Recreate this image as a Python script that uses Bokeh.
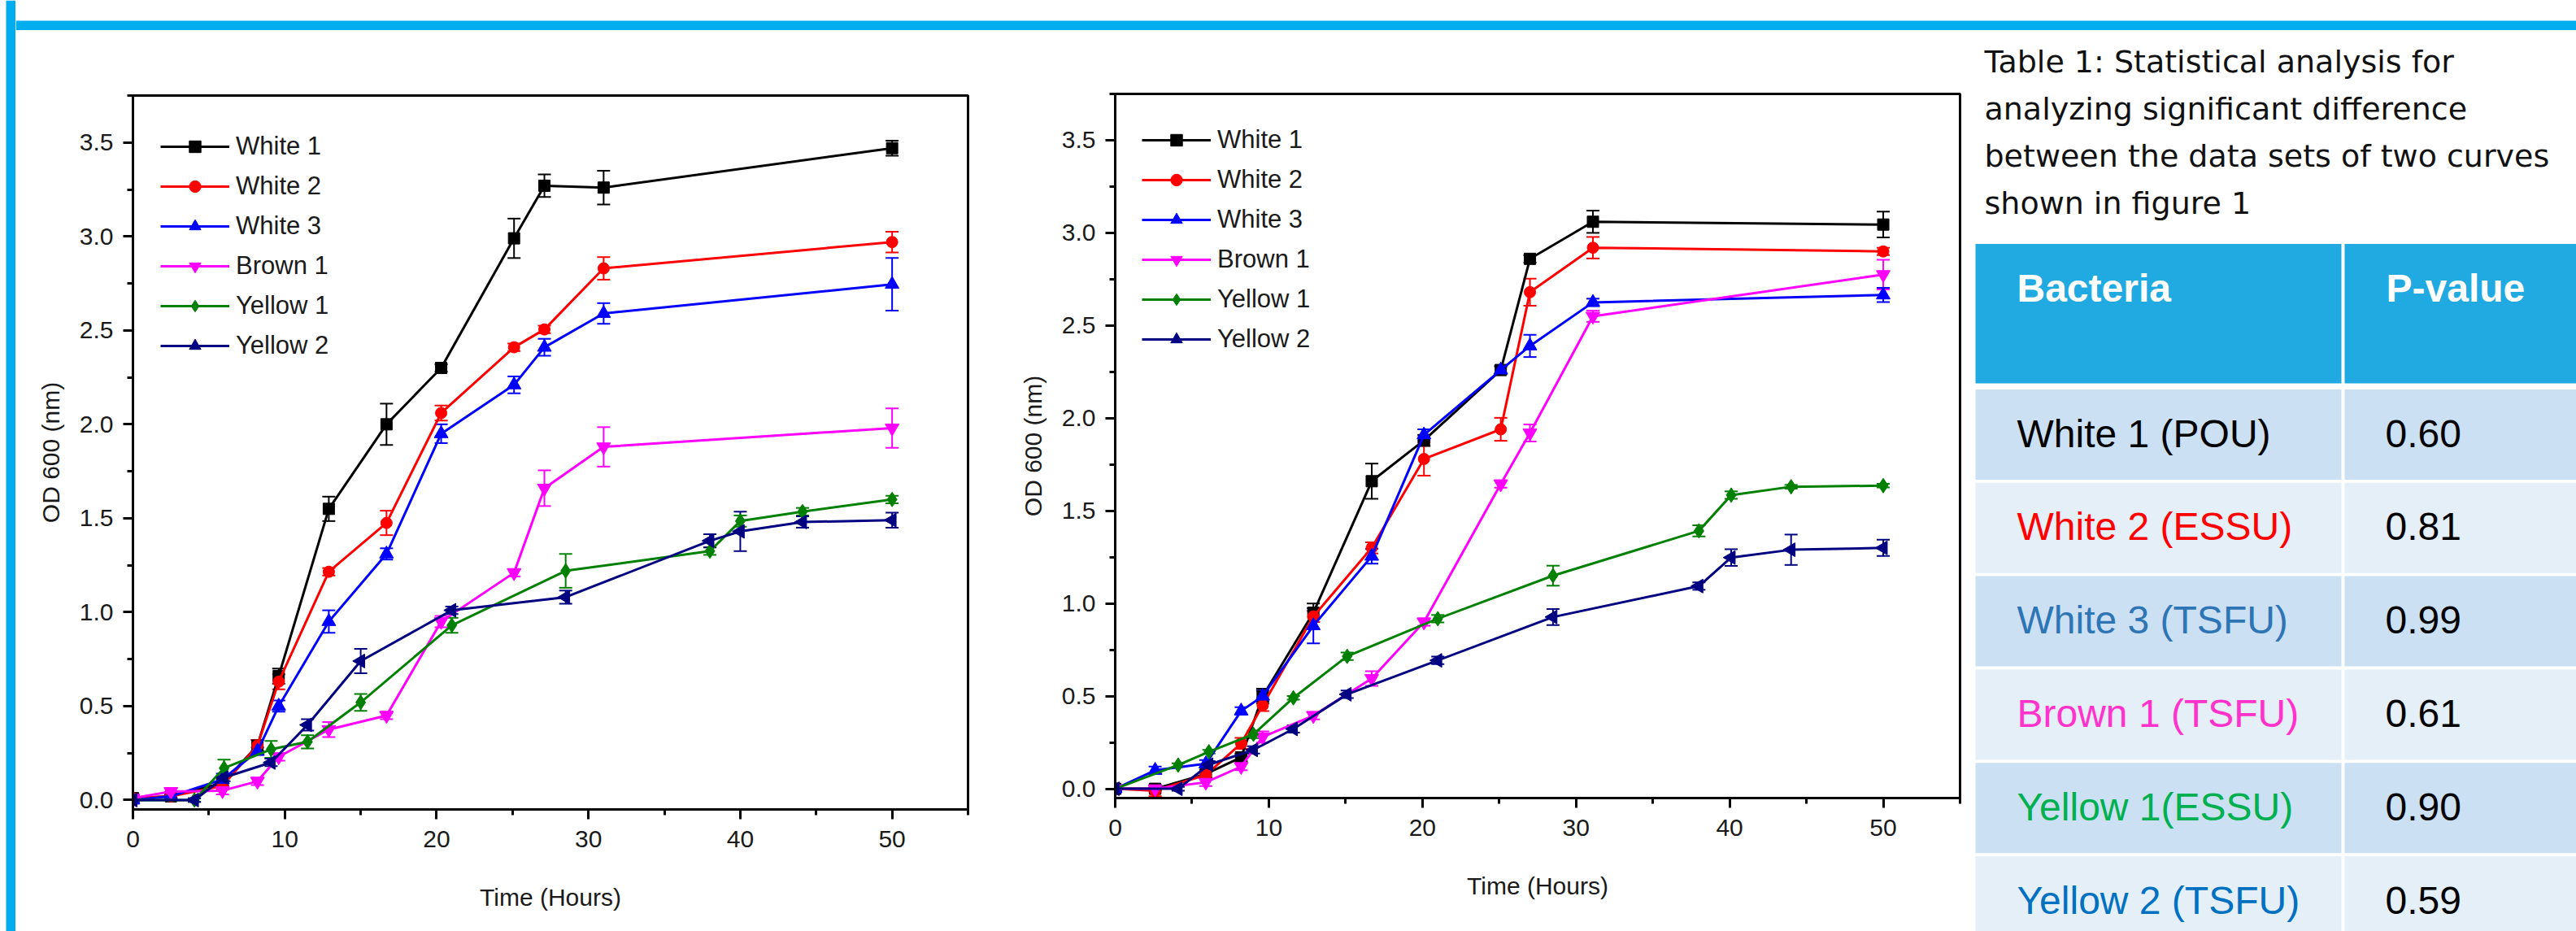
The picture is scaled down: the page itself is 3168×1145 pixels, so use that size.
import math
from bokeh.plotting import figure
from bokeh.models import (Range1d, SingleIntervalTicker, ColumnDataSource, Whisker,
                          TeeHead, Legend, LegendItem, NumeralTickFormatter)
from bokeh.layouts import row, column
from bokeh.embed import file_html
from bokeh.resources import INLINE
from bokeh.core.properties import value

# ---------------- data ----------------
series_names = ["White 1", "White 2", "White 3", "Brown 1", "Yellow 1", "Yellow 2"]

# Figure A (left)
tA_white = [0, 2.5, 5.9, 8.2, 9.6, 12.9, 16.7, 20.3, 25.1, 27.1, 31.0, 50.0]
tA_yellow = [0, 4.05, 6.0, 9.1, 11.5, 15.0, 21.0, 28.5, 38.0, 40.0, 44.1, 50.0]
A_white1 = [0.01, 0.02, 0.09, 0.29, 0.66, 1.55, 2.00, 2.30, 2.99, 3.27, 3.26, 3.47]
A_white1_err = [0.01, 0.01, 0.02, 0.03, 0.04, 0.065, 0.11, 0.02, 0.105, 0.06, 0.09, 0.04]
A_white2 = [0.01, 0.02, 0.075, 0.29, 0.63, 1.215, 1.475, 2.06, 2.41, 2.505, 2.83, 2.97]
A_white2_err = [0.01, 0.01, 0.02, 0.03, 0.04, 0.02, 0.065, 0.04, 0.02, 0.02, 0.06, 0.055]
A_white3 = [0.0, 0.02, 0.11, 0.26, 0.50, 0.95, 1.31, 1.95, 2.21, 2.41, 2.59, 2.745]
A_white3_err = [0.01, 0.01, 0.03, 0.02, 0.03, 0.06, 0.03, 0.05, 0.045, 0.045, 0.055, 0.14]
A_brown1 = [0.01, 0.045, 0.05, 0.10, 0.23, 0.375, 0.45, 0.95, 1.21, 1.66, 1.88, 1.98]
A_brown1_err = [0.01, 0.02, 0.02, 0.02, 0.02, 0.04, 0.02, 0.03, 0.02, 0.095, 0.105, 0.105]
A_yellow1 = [0.0, 0.0, 0.17, 0.27, 0.31, 0.52, 0.93, 1.22, 1.325, 1.485, 1.535, 1.60]
A_yellow1_err = [0.01, 0.01, 0.045, 0.045, 0.035, 0.045, 0.04, 0.09, 0.02, 0.03, 0.02, 0.02]
A_yellow2 = [0.0, 0.0, 0.12, 0.20, 0.40, 0.74, 1.01, 1.08, 1.38, 1.43, 1.48, 1.49]
A_yellow2_err = [0.01, 0.01, 0.02, 0.02, 0.03, 0.065, 0.02, 0.035, 0.035, 0.105, 0.03, 0.04]

# Figure B (right)
tB_white = [0, 2.6, 5.9, 8.2, 9.6, 12.9, 16.7, 20.1, 25.1, 27.0, 31.1, 50.0]
tB_yellow = [0, 4.1, 6.1, 9.0, 11.6, 15.1, 21.0, 28.5, 38.0, 40.1, 44.0, 50.0]
B_white1 = [0.0, 0.0, 0.08, 0.17, 0.50, 0.95, 1.66, 1.88, 2.26, 2.86, 3.06, 3.045]
B_white1_err = [0.01, 0.01, 0.02, 0.02, 0.04, 0.05, 0.095, 0.03, 0.02, 0.02, 0.06, 0.07]
B_white2 = [0.0, -0.01, 0.075, 0.245, 0.45, 0.93, 1.30, 1.78, 1.94, 2.68, 2.92, 2.90]
B_white2_err = [0.01, 0.03, 0.02, 0.03, 0.03, 0.03, 0.03, 0.09, 0.062, 0.073, 0.058, 0.02]
B_white3 = [0.0, 0.10, 0.135, 0.42, 0.50, 0.88, 1.255, 1.91, 2.26, 2.39, 2.625, 2.665]
B_white3_err = [0.01, 0.02, 0.02, 0.02, 0.03, 0.095, 0.04, 0.03, 0.02, 0.06, 0.02, 0.038]
B_brown1 = [0.0, 0.0, 0.035, 0.12, 0.28, 0.395, 0.595, 0.90, 1.645, 1.92, 2.55, 2.775]
B_brown1_err = [0.01, 0.02, 0.02, 0.02, 0.03, 0.02, 0.04, 0.02, 0.02, 0.046, 0.03, 0.08]
B_yellow1 = [0.0, 0.128, 0.20, 0.294, 0.491, 0.715, 0.918, 1.15, 1.392, 1.585, 1.63, 1.636]
B_yellow1_err = [0.01, 0.01, 0.01, 0.02, 0.01, 0.02, 0.02, 0.054, 0.03, 0.02, 0.01, 0.01]
B_yellow2 = [0.0, 0.0, 0.13, 0.21, 0.323, 0.51, 0.693, 0.927, 1.094, 1.248, 1.29, 1.30]
B_yellow2_err = [0.01, 0.01, 0.02, 0.02, 0.02, 0.02, 0.02, 0.043, 0.02, 0.045, 0.082, 0.044]

# Table
caption_lines = ["Table 1: Statistical analysis for",
                 "analyzing significant difference",
                 "between the data sets of two curves",
                 "shown in figure 1"]
table_header = ["Bacteria", "P-value"]
bacteria = ["White 1 (POU)", "White 2 (ESSU)", "White 3 (TSFU)",
            "Brown 1 (TSFU)", "Yellow 1(ESSU)", "Yellow 2 (TSFU)"]
p_values = ["0.60", "0.81", "0.99", "0.61", "0.90", "0.59"]

# ---------------- styles ----------------
FONT = "Liberation Sans"
series_colors = ["#000000", "#FF0000", "#0000FF", "#FF00FF", "#008000", "#000080"]
series_markers = ["square", "circle", "triangle", "inverted_triangle", "diamond", "triangle"]
series_angles = [0, 0, 0, 0, 0, math.pi / 2]
series_sizes = [14, 14, 17, 17, 18, 17]
bacteria_colors = ["#000000", "#FF0000", "#2E75B6", "#FF33CC", "#00B050", "#0070C0"]
BLUE = "#00AEEF"


def make_chart(width, height, bl, br, bt, bb, times, vals, errs, leg_xy):
    p = figure(width=width, height=height, output_backend="svg", toolbar_location=None,
               x_range=Range1d(0, 55), y_range=Range1d(-0.05, 3.75),
               min_border_left=bl, min_border_right=br, min_border_top=bt,
               min_border_bottom=bb)
    p.xgrid.visible = False
    p.ygrid.visible = False
    p.outline_line_color = "#000000"
    p.outline_line_width = 3
    p.outline_line_alpha = 1.0
    p.background_fill_color = "white"
    p.border_fill_color = "white"

    p.xaxis.ticker = SingleIntervalTicker(interval=10, num_minor_ticks=2)
    p.yaxis.ticker = SingleIntervalTicker(interval=0.5, num_minor_ticks=2)
    p.yaxis.formatter = NumeralTickFormatter(format="0.0")
    p.xaxis.axis_label = "Time (Hours)"
    p.yaxis.axis_label = "OD 600 (nm)"
    for ax in [p.xaxis, p.yaxis]:
        ax.axis_line_width = 3
        ax.axis_line_color = "#000000"
        ax.major_tick_line_width = 3
        ax.minor_tick_line_width = 3
        ax.major_tick_out = 12
        ax.major_tick_in = 0
        ax.minor_tick_out = 7
        ax.minor_tick_in = 0
        ax.major_label_text_font = FONT
        ax.major_label_text_font_size = "30px"
        ax.major_label_text_color = "#1a1a1a"
        ax.axis_label_text_font = FONT
        ax.axis_label_text_font_size = "30px"
        ax.axis_label_text_font_style = "normal"
        ax.axis_label_text_color = "#1a1a1a"
    p.xaxis.major_label_standoff = 14
    p.yaxis.major_label_standoff = 12
    p.xaxis.axis_label_standoff = 42
    p.yaxis.axis_label_standoff = 16

    items = []
    for i, name in enumerate(series_names):
        t = times[i]
        v = vals[i]
        e = errs[i]
        col = series_colors[i]
        src = ColumnDataSource(dict(x=t, y=v,
                                    upper=[a + b for a, b in zip(v, e)],
                                    lower=[a - b for a, b in zip(v, e)]))
        w = Whisker(base="x", upper="upper", lower="lower", source=src,
                    line_color=col, line_width=2,
                    upper_head=TeeHead(size=16, line_color=col, line_width=2),
                    lower_head=TeeHead(size=16, line_color=col, line_width=2))
        p.add_layout(w)
        lr = p.line("x", "y", source=src, line_color=col, line_width=3)
        sr = p.scatter("x", "y", source=src, marker=series_markers[i],
                       angle=series_angles[i], size=series_sizes[i],
                       fill_color=col, line_color=col)
        items.append(LegendItem(label=name, renderers=[lr, sr]))

    leg = Legend(items=items, location=leg_xy)
    leg.glyph_width = 85
    leg.glyph_height = 36
    leg.label_height = 36
    leg.label_standoff = 8
    leg.spacing = 13
    leg.padding = 0
    leg.margin = 0
    leg.border_line_color = None
    leg.background_fill_alpha = 0
    leg.label_text_font = FONT
    leg.label_text_font_size = "31px"
    leg.label_text_color = "#1a1a1a"
    p.add_layout(leg)
    return p


pA = make_chart(1221, 1108, 144, 50, 80, 150,
                [tA_white] * 4 + [tA_yellow] * 2,
                [A_white1, A_white2, A_white3, A_brown1, A_yellow1, A_yellow2],
                [A_white1_err, A_white2_err, A_white3_err, A_brown1_err, A_yellow1_err, A_yellow2_err],
                (34, 552))

pB = make_chart(1180, 1108, 131, 10, 78, 164,
                [tB_white] * 4 + [tB_yellow] * 2,
                [B_white1, B_white2, B_white3, B_brown1, B_yellow1, B_yellow2],
                [B_white1_err, B_white2_err, B_white3_err, B_brown1_err, B_yellow1_err, B_yellow2_err],
                (33, 546))

# ---------------- table panel ----------------
TW, TH = 748, 1108
pt = figure(width=TW, height=TH, output_backend="svg", toolbar_location=None,
            x_range=Range1d(0, TW), y_range=Range1d(TH, 0), min_border=0,
            x_axis_type=None, y_axis_type=None)
pt.outline_line_color = None
pt.grid.visible = False

pt.text(x=[20] * len(caption_lines), y=[38 + 58 * i for i in range(len(caption_lines))],
        text=caption_lines, text_font=value("DejaVu Sans"), text_font_size="38px",
        text_color="#111111", text_baseline="middle", text_align="left")

col_left = [9, 463]
col_right = [459, TW]
hdr_top, hdr_bot = 262.5, 434
pt.quad(left=col_left, right=col_right, top=[hdr_top] * 2, bottom=[hdr_bot] * 2,
        fill_color="#21AAE1", line_color=None)
pt.text(x=[60, 514], y=[317, 317], text=table_header, text_font=value(FONT),
        text_font_size="48px", text_font_style="bold", text_color="white",
        text_baseline="middle", text_align="left")

row0, pitch, rh = 441.5, 114.8, 111.0
tops = [row0 + pitch * i for i in range(len(bacteria))]
fills = ["#CCE0F3" if i % 2 == 0 else "#E5EFF8" for i in range(len(bacteria))]
for c in range(2):
    pt.quad(left=[col_left[c]] * len(tops), right=[col_right[c]] * len(tops),
            top=tops, bottom=[tp + rh for tp in tops], fill_color=fills, line_color=None)
centers = [tp + 54 for tp in tops]
pt.text(x=[60] * len(bacteria), y=centers, text=bacteria, text_color=bacteria_colors,
        text_font=value(FONT), text_font_size="48px", text_baseline="middle",
        text_align="left")
pt.text(x=[513] * len(p_values), y=centers, text=p_values, text_color="#000000",
        text_font=value(FONT), text_font_size="48px", text_baseline="middle",
        text_align="left")

# ---------------- decorative blue frame ----------------
bar = figure(width=19, height=1145, output_backend="svg", toolbar_location=None,
             x_range=Range1d(0, 19), y_range=Range1d(1145, 0), min_border=0,
             x_axis_type=None, y_axis_type=None)
bar.outline_line_color = None
bar.grid.visible = False
bar.quad(left=[7], right=[19], top=[0], bottom=[1145], fill_color=BLUE, line_color=None)

stripe = figure(width=3149, height=37, output_backend="svg", toolbar_location=None,
                x_range=Range1d(0, 3149), y_range=Range1d(37, 0), min_border=0,
                x_axis_type=None, y_axis_type=None)
stripe.outline_line_color = None
stripe.grid.visible = False
stripe.quad(left=[0], right=[3149], top=[25], bottom=[37], fill_color=BLUE, line_color=None)

# each panel wrapped on its own so that the row does not align their frames
layout = row(bar, column(stripe, row(column(pA), column(pB), column(pt))))

open("out.html", "w").write(file_html(layout, INLINE))
